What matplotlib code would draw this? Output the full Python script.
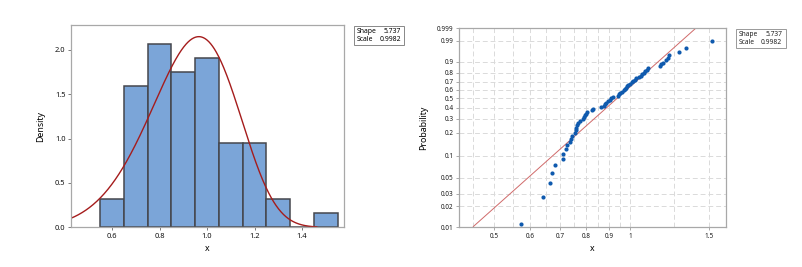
import numpy as np
import matplotlib
matplotlib.use("Agg")
import matplotlib.pyplot as plt
from matplotlib.patches import Rectangle

plt.rcParams['font.family'] = ['Noto Sans', 'DejaVu Sans']

# ---- data ----
x_values = [0.573, 0.643, 0.665, 0.673, 0.681, 0.709, 0.712, 0.722, 0.724, 0.735,
            0.739, 0.745, 0.754, 0.758, 0.761, 0.763, 0.767, 0.776, 0.785, 0.789,
            0.793, 0.798, 0.805, 0.825, 0.829, 0.862, 0.878, 0.880, 0.885, 0.893,
            0.901, 0.908, 0.918, 0.940, 0.946, 0.948, 0.962, 0.968, 0.973, 0.978,
            0.985, 0.992, 1.000, 1.008, 1.016, 1.026, 1.033, 1.045, 1.060, 1.065,
            1.075, 1.082, 1.090, 1.098, 1.168, 1.172, 1.185, 1.200, 1.215, 1.220,
            1.283, 1.330, 1.522]
shape = 5.737
scale = 0.9982
bin_edges = [0.55, 0.65, 0.75, 0.85, 0.95, 1.05, 1.15, 1.25, 1.35, 1.45, 1.55]
hist_xticks = [0.6, 0.8, 1.0, 1.2, 1.4]
hist_yticks = [0.0, 0.5, 1.0, 1.5, 2.0]
prob_yticks = [0.01, 0.02, 0.03, 0.05, 0.1, 0.2, 0.3, 0.4, 0.5, 0.6, 0.7, 0.8, 0.9, 0.99, 0.999]
prob_xticks = [0.5, 0.6, 0.7, 0.8, 0.9, 1, 1.5]
prob_xgrid = [0.45, 0.5, 0.55, 0.6, 0.65, 0.7, 0.75, 0.8, 0.85, 0.9, 0.95, 1.0, 1.25, 1.5]

W, H = 803, 267
fig = plt.figure(figsize=(W / 100, H / 100), dpi=100)

def ax_rect(l, t, r, b):
    return [l / W, (H - b) / H, (r - l) / W, (b - t) / H]

frame_col = '#a8a8a8'

# ---------- Histogram ----------
ax1 = fig.add_axes(ax_rect(71, 25, 344, 227.3))
ax1.hist(x_values, bins=bin_edges, density=True, color='#7BA5D8',
         edgecolor='#45474d', linewidth=1.1)
xs = np.linspace(0.427, 1.462, 400)
pdf = (shape / scale) * (xs / scale) ** (shape - 1) * np.exp(-(xs / scale) ** shape)
ax1.plot(xs, pdf, color='#A51C1C', lw=1.0)
ax1.set_xlim(0.427, 1.577)
ax1.set_ylim(0, 2.28)
ax1.set_xticks(hist_xticks)
ax1.set_xticklabels([f'{t:.1f}' for t in hist_xticks])
ax1.set_yticks(hist_yticks)
ax1.set_yticklabels([f'{t:.1f}' for t in hist_yticks])
ax1.tick_params(labelsize=5.4, length=2, width=0.6, color='#666666', pad=2,
                labelcolor='#111111')
for lab in ax1.get_xticklabels() + ax1.get_yticklabels():
    lab.set_fontweight('bold')
for s in ax1.spines.values():
    s.set_color(frame_col)
    s.set_linewidth(0.9)
ax1.set_xlabel('x', fontsize=6.3, fontweight='bold', labelpad=3)
ax1.set_ylabel('Density', fontsize=6.3, fontweight='bold', labelpad=7)

# legend box left
fig.patches.append(Rectangle((354 / W, (H - 45) / H), 50 / W, 19 / H,
                             transform=fig.transFigure, facecolor='white',
                             edgecolor='#888888', lw=0.7))
fig.text(357 / W, 1 - 31.5 / H, 'Shape', fontsize=4.9, fontweight='bold', va='center', ha='left')
fig.text(401 / W, 1 - 31.5 / H, f'{shape:.3f}', fontsize=4.9, fontweight='bold', va='center', ha='right')
fig.text(357 / W, 1 - 39.5 / H, 'Scale', fontsize=4.9, fontweight='bold', va='center', ha='left')
fig.text(401 / W, 1 - 39.5 / H, f'{scale:.4f}', fontsize=4.9, fontweight='bold', va='center', ha='right')

# ---------- Weibull probability plot ----------
def fwd(p):
    p = np.clip(p, 1e-9, 1 - 1e-12)
    return np.log(-np.log(1 - p))

def inv(w):
    return 1 - np.exp(-np.exp(w))

ax2 = fig.add_axes(ax_rect(459, 28.3, 726, 227.3))
ax2.set_xscale('log')
ax2.set_yscale('function', functions=(fwd, inv))
n = len(x_values)
ranks = np.arange(1, n + 1)
probs = (ranks - 0.3) / (n + 0.4)
xlo, xhi = 0.418, 1.632
xl = np.geomspace(xlo, xhi, 300)
pl = 1 - np.exp(-(xl / scale) ** shape)
mask = (pl >= 0.01) & (pl <= 0.999)
ax2.plot(xl[mask], pl[mask], color='#D06A6A', lw=0.7, zorder=2)
ax2.scatter(np.sort(x_values), probs, s=9, color='#0F5AAE', zorder=3, linewidths=0)
ax2.set_xlim(xlo, xhi)
ax2.set_ylim(0.01, 0.999)
ax2.set_yticks(prob_yticks)
ax2.set_yticklabels([f'{t:g}' for t in prob_yticks])
ax2.yaxis.set_minor_locator(plt.NullLocator())
ax2.set_xticks(prob_xticks)
ax2.set_xticklabels([f'{t:g}' for t in prob_xticks])
ax2.xaxis.set_minor_locator(plt.NullLocator())
ax2.xaxis.set_minor_formatter(plt.NullFormatter())
gkw = dict(color='#dadada', lw=0.7, linestyle=(0, (5, 3)), zorder=0)
for g in prob_xgrid:
    ax2.axvline(g, **gkw)
for g in prob_yticks[:-1]:
    ax2.axhline(g, **gkw)
ax2.tick_params(labelsize=4.6, length=2, width=0.5, color='#888888', pad=2,
                labelcolor='#1a1a1a')
for s in ax2.spines.values():
    s.set_color(frame_col)
    s.set_linewidth(0.9)
ax2.set_xlabel('x', fontsize=6.3, labelpad=3)
ax2.set_ylabel('Probability', fontsize=6.3, labelpad=6)

fig.patches.append(Rectangle((736 / W, (H - 48) / H), 50 / W, 19 / H,
                             transform=fig.transFigure, facecolor='white',
                             edgecolor='#999999', lw=0.7))
fig.text(739 / W, 1 - 34 / H, 'Shape', fontsize=4.8, va='center', ha='left', color='#222222')
fig.text(782 / W, 1 - 34 / H, f'{shape:.3f}', fontsize=4.8, va='center', ha='right', color='#222222')
fig.text(739 / W, 1 - 42.5 / H, 'Scale', fontsize=4.8, va='center', ha='left', color='#222222')
fig.text(782 / W, 1 - 42.5 / H, f'{scale:.4f}', fontsize=4.8, va='center', ha='right', color='#222222')

fig.savefig('out.png', dpi=100, facecolor='white')
